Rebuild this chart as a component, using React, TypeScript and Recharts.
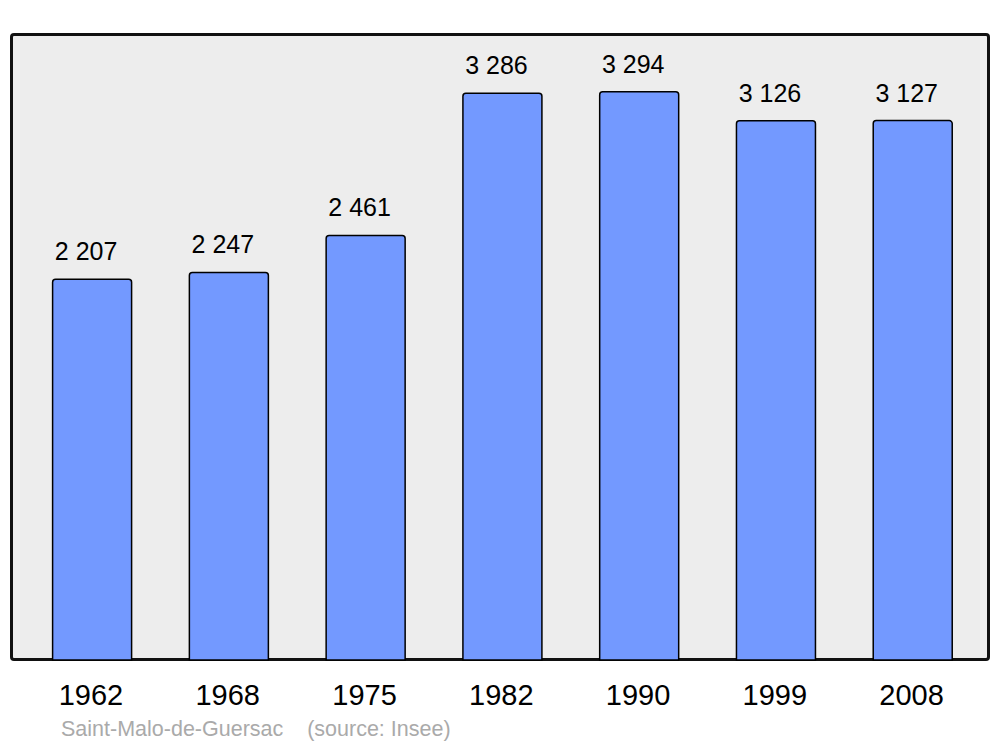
import { Bar, BarChart, LabelList, XAxis, YAxis } from "recharts";

const years = ["1962", "1968", "1975", "1982", "1990", "1999", "2008"];
const population = [2207, 2247, 2461, 3286, 3294, 3126, 3127];

const data = years.map((year, i) => ({ year, value: population[i] }));

const FONT = "'Liberation Sans', Arial, sans-serif";

const formatThousands = (v: number) =>
  String(v).replace(/\B(?=(\d{3})+(?!\d))/g, " ");

export default function App() {
  return (
    <div
      style={{
        position: "fixed",
        left: 0,
        top: 0,
        width: 1000,
        height: 747,
        background: "#ffffff",
        fontFamily: FONT,
      }}
    >
      {/* plot frame */}
      <div
        style={{
          position: "absolute",
          left: 10,
          top: 33,
          width: 980,
          height: 628,
          boxSizing: "border-box",
          border: "3px solid #111",
          borderRadius: 4,
          background: "#ededed",
        }}
      />
      <div style={{ position: "absolute", left: 0, top: 0 }}>
        <BarChart
          width={1000}
          height={747}
          data={data}
          margin={{ top: 34, right: 11, bottom: 0, left: 11 }}
          barCategoryGap={0}
        >
          <XAxis
            dataKey="year"
            axisLine={false}
            tickLine={false}
            tickSize={0}
            tickMargin={24}
            height={87}
            padding={{ left: 12.6, right: 8 }}
            interval={0}
            tick={{ fontSize: 29, fill: "#000", fontFamily: FONT, dx: -1 }}
          />
          <YAxis hide domain={[0, 3629]} />
          <Bar
            dataKey="value"
            barSize={79}
            fill="#7399ff"
            stroke="#000"
            strokeWidth={1.5}
            radius={[3, 3, 0, 0]}
            isAnimationActive={false}
          >
            <LabelList
              dataKey="value"
              position="top"
              offset={19}
              formatter={(v: any) => formatThousands(Number(v))}
              style={{ fontSize: 25, fill: "#000", fontFamily: FONT, transform: "translateX(-6px)" }}
            />
          </Bar>
        </BarChart>
      </div>
      <div
        style={{
          position: "absolute",
          left: 61,
          top: 717,
          fontSize: 21.5,
          color: "#aaaaaa",
          whiteSpace: "pre",
          lineHeight: "25px",
        }}
      >
        {"Saint-Malo-de-Guersac    (source: Insee)"}
      </div>
    </div>
  );
}
